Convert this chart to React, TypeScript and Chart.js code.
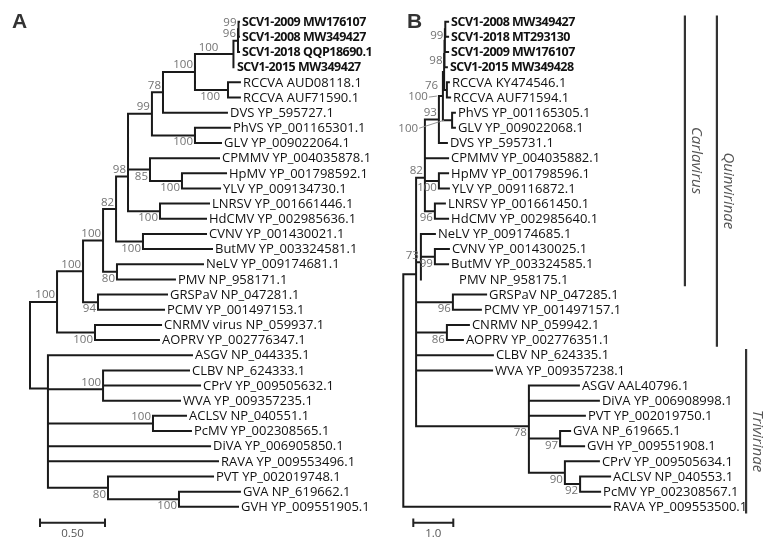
import React, { useEffect, useRef } from "react";
import { Chart, registerables } from "chart.js";
Chart.register(...registerables);

// ---------------- DATA ----------------
// Panel A (distance units, scale bar 0.50)
const tipNamesA = [
  "SCV1-2009 MW176107", "SCV1-2008 MW349427", "SCV1-2018 QQP18690.1", "SCV1-2015 MW349427",
  "RCCVA AUD08118.1", "RCCVA AUF71590.1", "DVS YP_595727.1", "PhVS YP_001165301.1",
  "GLV YP_009022064.1", "CPMMV YP_004035878.1", "HpMV YP_001798592.1", "YLV YP_009134730.1",
  "LNRSV YP_001661446.1", "HdCMV YP_002985636.1", "CVNV YP_001430021.1", "ButMV YP_003324581.1",
  "NeLV YP_009174681.1", "PMV NP_958171.1", "GRSPaV NP_047281.1", "PCMV YP_001497153.1",
  "CNRMV virus NP_059937.1", "AOPRV YP_002776347.1", "ASGV NP_044335.1", "CLBV NP_624333.1",
  "CPrV YP_009505632.1", "WVA YP_009357235.1", "ACLSV NP_040551.1", "PcMV YP_002308565.1",
  "DiVA YP_006905850.1", "RAVA YP_009553496.1", "PVT YP_002019748.1", "GVA NP_619662.1",
  "GVH YP_009551905.1",
];
const tipDepthA = [
  1.608, 1.608, 1.608, 1.569, 1.615, 1.615, 1.515, 1.538, 1.469, 1.454, 1.508, 1.462,
  1.377, 1.354, 1.354, 1.400, 1.331, 1.115, 1.054, 1.031, 1.008, 0.992, 1.246, 1.223,
  1.308, 1.154, 1.200, 1.238, 1.385, 1.446, 1.408, 1.615, 1.600,
];
// internal node: [depth, bootstrap, labelPlacement, ...children]; leaf = tip index
const treeA: any = [0, "", "",
  [0.208, "100", "a",
    [0.408, "100", "a",
      [0.562, "100", "a",
        [0.662, "82", "a",
          [0.754, "98", "a",
            [0.754, "", "",
              [0.938, "99", "a",
                [1.023, "78", "a",
                  [1.269, "100", "a",
                    [1.565, "100", "o -15 -6",
                      [1.600, "96", "a",
                        [1.604, "99", "a", 0, 1],
                        2],
                      3],
                    [1.523, "100", "o -8 7", 4, 5]],
                  6],
                [1.269, "100", "b", 7, 8]],
              [0.923, "85", "b", 9, [1.169, "100", "b", 10, 11]]],
            [1.0, "100", "b", 12, 13]],
          [0.869, "100", "b", 14, 15]],
        [0.669, "80", "b", 16, 17]],
      [0.523, "94", "b", 18, 19]],
    [0.5, "100", "b", 20, 21]],
  [0.138, "", "",
    22,
    [0.138, "", "",
      [0.562, "100", "a", [0.562, "", "", 23, 24], 25],
      [0.138, "", "",
        [0.138, "", "", [0.946, "100", "a", 26, 27], 28],
        [0.138, "", "", 29, [0.6, "80", "b", 30, [1.146, "100", "b", 31, 32]]]]]],
];
const hiddenTipsA: number[] = [];

// Panel B (distance units, scale bar 1.0)
const tipNamesB = [
  "SCV1-2008 MW349427", "SCV1-2018 MT293130", "SCV1-2009 MW176107", "SCV1-2015 MW349428",
  "RCCVA KY474546.1", "RCCVA AUF71594.1", "PhVS YP_001165305.1", "GLV YP_009022068.1",
  "DVS YP_595731.1", "CPMMV YP_004035882.1", "HpMV YP_001798596.1", "YLV YP_009116872.1",
  "LNRSV YP_001661450.1", "HdCMV YP_002985640.1", "NeLV YP_009174685.1", "CVNV YP_001430025.1",
  "ButMV YP_003324585.1", "PMV NP_958175.1", "GRSPaV NP_047285.1", "PCMV YP_001497157.1",
  "CNRMV NP_059942.1", "AOPRV YP_002776351.1", "CLBV NP_624335.1", "WVA YP_009357238.1",
  "ASGV AAL40796.1", "DiVA YP_006908998.1", "PVT YP_002019750.1", "GVA NP_619665.1",
  "GVH YP_009551908.1", "CPrV YP_009505634.1", "ACLSV NP_040553.1", "PcMV YP_002308567.1",
  "RAVA YP_009553500.1",
];
const tipDepthB = [
  1.12, 1.12, 1.12, 1.09, 1.14, 1.17, 1.29, 1.29, 1.09, 1.12, 1.12, 1.14,
  1.04, 1.12, 0.79, 1.14, 1.12, 1.32, 2.07, 1.94, 1.64, 1.49, 2.24, 2.22,
  4.39, 4.89, 4.54, 4.17, 4.52, 4.89, 5.17, 4.92, 5.17,
];
const treeB: any = [0, "", "",
  [0.32, "", "",
    [0.32, "", "",
      [0.54, "82", "a",
        [0.54, "", "",
          [0.89, "93", "a",
            [0.99, "100", "L -15 1 -6",
              [1.02, "76", "o -6 14",
                [1.03, "98", "b", [1.04, "", "", [1.05, "99", "b", 0, 1], 2], 3],
                [1.09, "", "", 4, 5]],
              [1.22, "100", "L -34 8 -8", 6, 7]],
            8],
          [0.54, "", "", 9, [0.89, "100", "b", 10, 11]]],
        [0.79, "96", "b", 12, 13]],
      [0.44, "73", "a", [0.44, "", "", 14, [0.79, "99", "b", 15, 16]], 17]],
    [0.32, "", "",
      [1.24, "96", "b", 18, 19],
      [0.32, "", "",
        [1.09, "86", "b", 20, 21],
        [0.32, "", "",
          22,
          [0.32, "", "",
            23,
            [3.14, "78", "b",
              [3.14, "", "", 24, [3.14, "", "", 25, 26]],
              [3.14, "", "",
                [3.92, "97", "b", 27, 28],
                [4.04, "90", "b", 29, [4.42, "92", "b", 30, 31]]]]]]]]],
  32,
];
const hiddenTipsB = [17]; // PMV branch is not drawn in the original figure

const boldTips = 4; // first four tips (SCV1 isolates) are bold in both panels
const scaleBarA = { start: 0.077, length: 0.5, label: "0.50" };
const scaleBarB = { start: 0.25, length: 1.0, label: "1.0" };
const cladeNames = ["Carlavirus", "Quinvirinae", "Trivirinae"];
const cladeFirstTip = [0, 0, 22];
const cladeLastTip = [17, 21, 32];

// ---------------- LAYOUT / STYLE ----------------
const W = 778;
const H = 546;
const cladeBarX = [7.04, 7.84, 8.57]; // in panel-B units
const scaleRow = 33.05;
const FONT = '"Open Sans", "Noto Sans", sans-serif';

type Pt = { x: number; y: number };
type Sup = { x: number; y: number; t: string; p: string };

function layoutTree(tree: any, tipDepth: number[], hidden: number[]) {
  const pts: Pt[] = [];
  const sup: Sup[] = [];
  const seg = (x1: number, y1: number, x2: number, y2: number) => {
    pts.push({ x: x1, y: y1 }, { x: x2, y: y2 }, { x: NaN, y: NaN });
  };
  const walk = (n: any, px: number | null): number => {
    if (typeof n === "number") {
      if (px !== null && !hidden.includes(n)) seg(px, n, tipDepth[n], n);
      return n;
    }
    const [d, s, p, ...kids] = n;
    const ys = kids.map((k: any) => walk(k, d));
    const y = (ys[0] + ys[ys.length - 1]) / 2;
    seg(d, Math.min(...ys), d, Math.max(...ys));
    if (px !== null) seg(px, y, d, y);
    if (s) sup.push({ x: d, y, t: s, p });
    return y;
  };
  walk(tree, null);
  return { pts, sup };
}

export default function App() {
  const ref = useRef<HTMLCanvasElement | null>(null);
  useEffect(() => {
    if (!ref.current) return;
    const A = layoutTree(treeA, tipDepthA, hiddenTipsA);
    const B = layoutTree(treeB, tipDepthB, hiddenTipsB);
    const bar = (sb: { start: number; length: number }) => [
      { x: sb.start, y: scaleRow }, { x: sb.start + sb.length, y: scaleRow }, { x: NaN, y: NaN },
      { x: sb.start, y: scaleRow - 0.22 }, { x: sb.start, y: scaleRow + 0.22 }, { x: NaN, y: NaN },
      { x: sb.start + sb.length, y: scaleRow - 0.22 }, { x: sb.start + sb.length, y: scaleRow + 0.22 },
    ];
    const clade: Pt[] = [];
    cladeNames.forEach((_, i) => {
      clade.push({ x: cladeBarX[i], y: cladeFirstTip[i] - 0.33 }, { x: cladeBarX[i], y: cladeLastTip[i] + 0.37 }, { x: NaN, y: NaN });
    });
    const lineDs = (data: Pt[], axis: string, color: string, width: number) => ({
      type: "scatter" as const,
      data,
      xAxisID: axis,
      yAxisID: "y",
      showLine: true,
      spanGaps: false,
      borderColor: color,
      borderWidth: width,
      borderCapStyle: "square" as const,
      pointRadius: 0,
      pointHoverRadius: 0,
      tension: 0,
    });

    const textPlugin = {
      id: "treeText",
      afterDatasetsDraw(chart: any) {
        const ctx = chart.ctx as CanvasRenderingContext2D;
        const y = chart.scales.y;
        const panels = [
          { sx: chart.scales.xA, names: tipNamesA, depth: tipDepthA, sup: A.sup, sb: scaleBarA },
          { sx: chart.scales.xB, names: tipNamesB, depth: tipDepthB, sup: B.sup, sb: scaleBarB },
        ];
        ctx.save();
        for (const P of panels) {
          ctx.textBaseline = "middle";
          ctx.textAlign = "left";
          P.names.forEach((nm, i) => {
            const bold = i < boldTips;
            ctx.font = bold ? "bold 12.5px " + FONT : "13px " + FONT;
            (ctx as any).letterSpacing = bold ? "-0.5px" : "0px";
            ctx.fillStyle = "#111";
            ctx.fillText(nm, P.sx.getPixelForValue(P.depth[i]) + 3, y.getPixelForValue(i) + 0.5);
          });
          (ctx as any).letterSpacing = "0px";
          ctx.font = "11.5px " + FONT;
          ctx.textAlign = "right";
          for (const s of P.sup) {
            const px = P.sx.getPixelForValue(s.x);
            const py = y.getPixelForValue(s.y);
            ctx.fillStyle = "#737373";
            const parts = s.p.split(" ");
            if (parts[0] === "a") {
              ctx.textBaseline = "bottom";
              ctx.fillText(s.t, px - 2, py - 1);
            } else if (parts[0] === "b") {
              ctx.textBaseline = "top";
              ctx.fillText(s.t, px - 2, py + 1);
            } else {
              const dx = +parts[1];
              const dy = +parts[2];
              ctx.textBaseline = "middle";
              ctx.fillText(s.t, px + dx, py + dy);
              if (parts[0] === "L") {
                ctx.strokeStyle = "#888";
                ctx.lineWidth = 0.9;
                ctx.beginPath();
                ctx.moveTo(px + dx + 1, py + dy);
                ctx.lineTo(px + +parts[3], py);
                ctx.stroke();
              }
            }
          }
          ctx.textAlign = "center";
          ctx.textBaseline = "top";
          ctx.fillStyle = "#555";
          ctx.fillText(
            P.sb.label,
            P.sx.getPixelForValue(P.sb.start + P.sb.length / 2),
            y.getPixelForValue(scaleRow) + 5
          );
        }
        // panel letters
        ctx.font = 'bold 21px "Liberation Sans", Arial, sans-serif';
        ctx.fillStyle = "#333";
        ctx.textAlign = "left";
        ctx.textBaseline = "alphabetic";
        ctx.fillText("A", 12, 28);
        ctx.fillText("B", 407, 28);
        // clade names
        ctx.font = "italic 15px " + FONT;
        ctx.fillStyle = "#555";
        ctx.textAlign = "center";
        ctx.textBaseline = "middle";
        cladeNames.forEach((nm, i) => {
          const px = chart.scales.xB.getPixelForValue(cladeBarX[i]) + 11;
          const py = (y.getPixelForValue(cladeFirstTip[i]) + y.getPixelForValue(cladeLastTip[i])) / 2 + 10;
          ctx.save();
          ctx.translate(px, py);
          ctx.rotate(Math.PI / 2);
          ctx.fillText(nm, 0, 0);
          ctx.restore();
        });
        ctx.restore();
      },
    };

    const chart = new Chart(ref.current, {
      type: "scatter",
      data: {
        datasets: [
          lineDs(A.pts, "xA", "#1a1a1a", 2),
          lineDs(B.pts, "xB", "#1a1a1a", 2),
          lineDs(bar(scaleBarA), "xA", "#222", 2),
          lineDs(bar(scaleBarB), "xB", "#222", 2),
          lineDs(clade, "xB", "#333", 2.2),
        ] as any,
      },
      options: {
        responsive: false,
        animation: false,
        devicePixelRatio: 1,
        events: [],
        layout: { padding: 0 },
        plugins: { legend: { display: false }, tooltip: { enabled: false }, title: { display: false } },
        scales: {
          xA: { type: "linear", axis: "x", position: "bottom", display: false, bounds: "data", min: -30 / 130, max: 748 / 130 },
          xB: { type: "linear", axis: "x", position: "bottom", display: false, bounds: "data", min: -403.3 / 40, max: 374.7 / 40 },
          y: { type: "linear", display: false, reverse: true, bounds: "data", min: -21.7 / 15.16, max: 524.3 / 15.16 },
        } as any,
      },
      plugins: [textPlugin],
    });
    return () => chart.destroy();
  }, []);
  return (
    <div style={{ position: "absolute", left: 0, top: 0, width: W, height: H, background: "#fff" }}>
      <canvas ref={ref} width={W} height={H} style={{ width: W, height: H, display: "block" }} />
    </div>
  );
}
